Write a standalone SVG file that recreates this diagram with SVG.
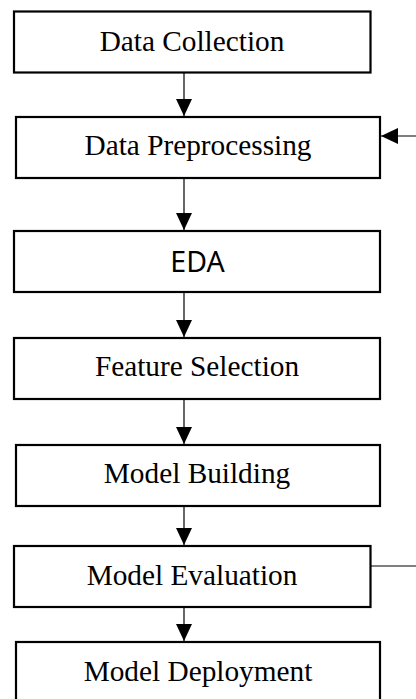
<svg xmlns="http://www.w3.org/2000/svg" width="416" height="699" viewBox="0 0 416 699">
<style>
.box{fill:#fff;stroke:#000;stroke-width:2.2}
.t{font-family:"Liberation Serif","Times New Roman",serif;font-size:29.3px;fill:#000;text-anchor:middle}
.s{font-family:"Noto Sans","DejaVu Sans",sans-serif;font-size:28.5px;fill:#000;text-anchor:middle}
.c{stroke:#000;stroke-width:1.2;fill:none}
</style>
<defs>
<marker id="ah" viewBox="0 0 17 16" refX="17" refY="8" markerWidth="17" markerHeight="16" markerUnits="userSpaceOnUse" orient="auto">
<path d="M0,0 L17,8 L0,16 Z" fill="#000"/>
</marker>
</defs>
<rect width="416" height="699" fill="#fff"/>
<g id="n1"><rect class="box" x="14" y="11.5" width="356.5" height="61"/><text class="t" x="192" y="51">Data Collection</text></g>
<g id="n2"><rect class="box" x="16" y="117" width="364" height="61"/><text class="t" x="198" y="155">Data Preprocessing</text></g>
<g id="n3"><rect class="box" x="14" y="231" width="366" height="61"/><text class="s" x="197.5" y="272">EDA</text></g>
<g id="n4"><rect class="box" x="14" y="338" width="366" height="61"/><text class="t" x="197" y="376">Feature Selection</text></g>
<g id="n5"><rect class="box" x="16" y="445" width="364" height="61"/><text class="t" x="197" y="483">Model Building</text></g>
<g id="n6"><rect class="box" x="14" y="546" width="356.5" height="61"/><text class="t" x="192" y="585">Model Evaluation</text></g>
<g id="n7"><rect class="box" x="16" y="642" width="364" height="70"/><text class="t" x="198" y="681">Model Deployment</text></g>
<g id="connectors">
<line class="c" x1="184" y1="73" x2="184" y2="116" marker-end="url(#ah)"/>
<line class="c" x1="184" y1="178" x2="184" y2="230" marker-end="url(#ah)"/>
<line class="c" x1="184" y1="292" x2="184" y2="337" marker-end="url(#ah)"/>
<line class="c" x1="184" y1="399" x2="184" y2="444" marker-end="url(#ah)"/>
<line class="c" x1="184" y1="506" x2="184" y2="545" marker-end="url(#ah)"/>
<line class="c" x1="184" y1="607" x2="184" y2="641" marker-end="url(#ah)"/>
<line class="c" x1="416" y1="136" x2="381" y2="136" marker-end="url(#ah)"/>
<line class="c" x1="370.5" y1="566" x2="416" y2="566"/>
</g>
</svg>
